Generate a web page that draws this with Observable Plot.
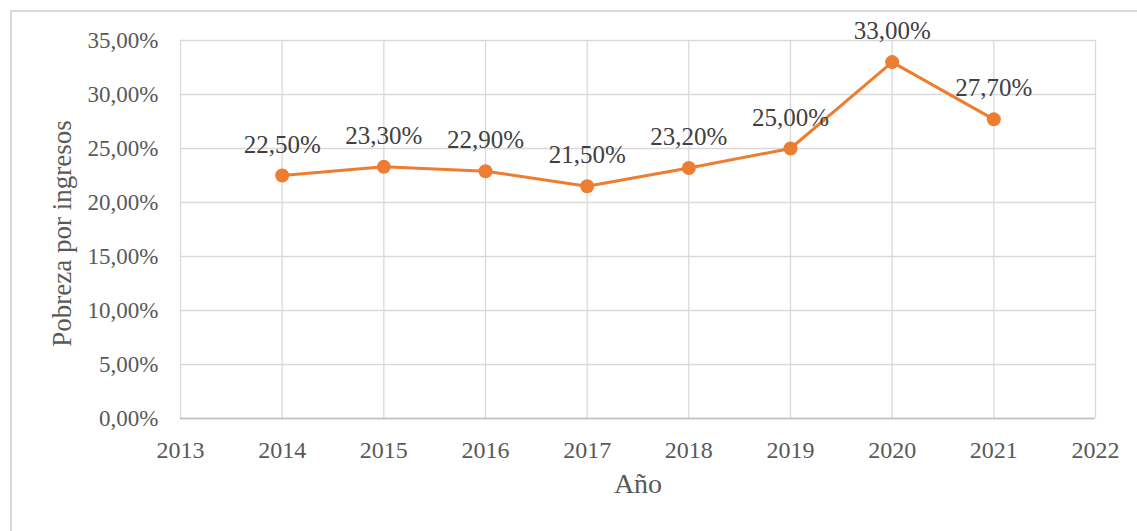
<!DOCTYPE html>
<html>
<head>
<meta charset="utf-8">
<script src="https://cdn.jsdelivr.net/npm/d3@7"></script>
<script src="https://cdn.jsdelivr.net/npm/@observablehq/plot@0.6"></script>
<style>
  html, body { margin: 0; padding: 0; background: #fff; overflow: hidden; }
  #wrap { position: relative; width: 1137px; height: 531px; }
  #border { position: absolute; left: 10px; top: 10px; width: 1140px; height: 530px; border: 2px solid #d9d9d9; box-sizing: border-box; pointer-events: none; }
  #chart { position: absolute; left: 0; top: 0; }
  #chart svg, #chart svg text { font-family: "Liberation Serif", "Times New Roman", serif; }
</style>
</head>
<body>
<div id="wrap"><div id="border"></div><div id="chart"></div></div>
<script>
const years = [2014, 2015, 2016, 2017, 2018, 2019, 2020, 2021];
const pobreza = [22.5, 23.3, 22.9, 21.5, 23.2, 25.0, 33.0, 27.7];
const xTicks = [2013, 2014, 2015, 2016, 2017, 2018, 2019, 2020, 2021, 2022];
const yTicks = [0, 5, 10, 15, 20, 25, 30, 35];
const yLabel = "Pobreza por ingresos";
const xLabel = "Año";

const data = years.map((y, i) => ({year: y, value: pobreza[i]}));
const fmt = v => v.toFixed(2).replace(".", ",") + "%";
const font = "Liberation Serif";

const chart = Plot.plot({
  width: 1137,
  height: 531,
  marginLeft: 180,
  marginRight: 42,
  marginTop: 40,
  marginBottom: 113,
  style: {background: "transparent"},
  x: {domain: [2013, 2022]},
  y: {domain: [0, 35]},
  marks: [
    Plot.gridX(xTicks, {stroke: "#d9d9d9", strokeOpacity: 1, strokeWidth: 1.3}),
    Plot.gridY(yTicks, {stroke: "#d9d9d9", strokeOpacity: 1, strokeWidth: 1.3}),
    Plot.ruleY([0], {stroke: "#bfbfbf", strokeWidth: 1.5}),
    Plot.axisX(xTicks, {tickSize: 0, tickPadding: 22, tickFormat: d => String(d), fontSize: 24, fill: "#595959", fontFamily: font, label: null}),
    Plot.axisY(yTicks, {tickSize: 0, tickPadding: 22, tickFormat: fmt, fontSize: 23, fill: "#595959", fontFamily: font, label: null}),
    Plot.line(data, {x: "year", y: "value", stroke: "#ED7D31", strokeWidth: 3}),
    Plot.dot(data, {x: "year", y: "value", r: 7, fill: "#ED7D31"}),
    Plot.text(data, {x: "year", y: "value", text: d => fmt(d.value), dy: -31, fontSize: 25, fill: "#404040", fontFamily: font}),
    Plot.text([yLabel], {frameAnchor: "left", textAnchor: "middle", dx: -118, dy: 4, rotate: -90, fontSize: 27, fill: "#595959", fontFamily: font}),
    Plot.text([xLabel], {frameAnchor: "bottom", dy: 74, fontSize: 28, fill: "#595959", fontFamily: font})
  ]
});
document.getElementById("chart").appendChild(chart);
</script>
</body>
</html>
